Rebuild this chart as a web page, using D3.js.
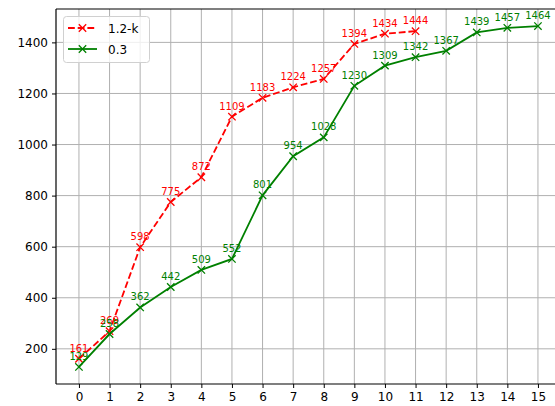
<!DOCTYPE html>
<html><head><meta charset="utf-8">
<script src="https://cdn.jsdelivr.net/npm/d3@7"></script>
<style>body{margin:0;background:#fff;} svg{display:block;font-family:"DejaVu Sans",sans-serif;}</style>
</head><body>
<svg id="c" width="555" height="406"></svg>
<script>
const xTicks = d3.range(0, 16);
const yTicks = [200, 400, 600, 800, 1000, 1200, 1400];
const seriesNames = ["1.2-k", "0.3"];
const seriesColors = ["red", "green"];
const redValues = [161, 269, 598, 775, 872, 1109, 1183, 1224, 1257, 1394, 1434, 1444];
const greenValues = [129, 258, 362, 442, 509, 552, 801, 954, 1028, 1230, 1309, 1342, 1367, 1439, 1457, 1464];

(function () {
const svg = d3.select("#c");
const pLeft = 56, pTop = 9, pBottom = 384;
const x = d3.scaleLinear().domain([-0.75, 15.75]).range([pLeft, pLeft + 16.5 * 30.6]);
const allV = redValues.concat(greenValues);
const mn = d3.min(allV), mx = d3.max(allV), pad = (mx - mn) * 0.05;
const y = d3.scaleLinear().domain([mn - pad, mx + pad]).range([pBottom, pTop]);
const pRight = x.range()[1];

// grid
const g = svg.append("g");
g.selectAll(".gx").data(xTicks).join("line")
  .attr("x1", d => x(d)).attr("x2", d => x(d)).attr("y1", pTop).attr("y2", pBottom)
  .attr("stroke", "#b0b0b0").attr("stroke-width", 1);
g.selectAll(".gy").data(yTicks).join("line")
  .attr("x1", pLeft).attr("x2", pRight).attr("y1", d => y(d)).attr("y2", d => y(d))
  .attr("stroke", "#b0b0b0").attr("stroke-width", 1);

// axes
const xAxis = svg.append("g").attr("transform", `translate(0,${pBottom})`)
  .call(d3.axisBottom(x).tickValues(xTicks).tickSize(4).tickPadding(4).tickFormat(d3.format("d")));
const yAxis = svg.append("g").attr("transform", `translate(${pLeft},0)`)
  .call(d3.axisLeft(y).tickValues(yTicks).tickSize(4).tickPadding(4).tickFormat(d3.format("d")));
[xAxis, yAxis].forEach(a => {
  a.select(".domain").remove();
  a.selectAll("text").attr("font-size", 12).attr("fill", "#000").attr("font-family", "DejaVu Sans");
  a.selectAll("line").attr("stroke", "#000");
});
// spines
svg.append("line").attr("x1", pLeft).attr("x2", pRight).attr("y1", pBottom).attr("y2", pBottom).attr("stroke", "#000").attr("stroke-width", 1.2);
svg.append("line").attr("x1", pLeft).attr("x2", pRight).attr("y1", pTop).attr("y2", pTop).attr("stroke", "#000").attr("stroke-width", 1.2);
svg.append("line").attr("x1", pLeft).attr("x2", pLeft).attr("y1", pTop).attr("y2", pBottom).attr("stroke", "#000").attr("stroke-width", 1.2);

const line = d3.line().x((d, i) => x(i)).y(d => y(d));
const ms = 3.7;
function drawSeries(vals, color, dash) {
  svg.append("path").datum(vals).attr("d", line).attr("fill", "none")
    .attr("stroke", color).attr("stroke-width", 1.8).attr("stroke-dasharray", dash);
  const m = svg.append("g");
  vals.forEach((v, i) => {
    const cx = x(i), cy = y(v);
    m.append("path").attr("d", `M${cx-ms},${cy-ms}L${cx+ms},${cy+ms}M${cx-ms},${cy+ms}L${cx+ms},${cy-ms}`)
      .attr("stroke", color).attr("stroke-width", 1.3).attr("fill", "none");
  });
  svg.append("g").selectAll("text").data(vals).join("text")
    .attr("x", (d, i) => x(i)).attr("y", d => y(d) - 7)
    .attr("text-anchor", "middle").attr("font-size", 10).attr("fill", color)
    .text(d => d);
}
drawSeries(redValues, seriesColors[0], "6.8,2.9");
drawSeries(greenValues, seriesColors[1], null);

// legend
const lg = svg.append("g");
lg.append("rect").attr("x", 63.5).attr("y", 16.5).attr("width", 86).attr("height", 46).attr("rx", 3)
  .attr("fill", "#fff").attr("fill-opacity", 0.8).attr("stroke", "#d0d0d0");
seriesNames.forEach((n, i) => {
  const yy = 28 + i * 21;
  lg.append("line").attr("x1", 68).attr("x2", 97).attr("y1", yy).attr("y2", yy)
    .attr("stroke", seriesColors[i]).attr("stroke-width", 1.8).attr("stroke-dasharray", i === 0 ? "6.8,2.9" : null);
  const cx = 82.5;
  lg.append("path").attr("d", `M${cx-ms},${yy-ms}L${cx+ms},${yy+ms}M${cx-ms},${yy+ms}L${cx+ms},${yy-ms}`)
    .attr("stroke", seriesColors[i]).attr("stroke-width", 1.3);
  lg.append("text").attr("x", 108).attr("y", yy + 4.5).attr("font-size", 12).attr("fill", "#000").text(n);
});
})();
</script>
</body></html>
